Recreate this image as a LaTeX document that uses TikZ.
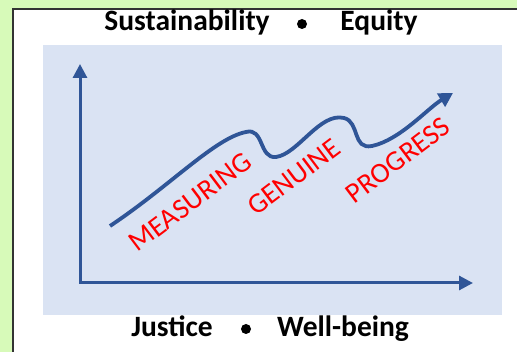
\documentclass[tikz,border=0pt]{standalone}
\usepackage{fontspec}
\setmainfont{Carlito}
\usetikzlibrary{arrows.meta}

\definecolor{leaf}{RGB}{215,250,185}
\definecolor{panel}{RGB}{218,227,243}
\definecolor{ink}{RGB}{47,85,151}

\begin{document}
\begin{tikzpicture}[x=1pt, y=-1pt,
		motto/.style={font=\fontsize{29.5}{31}\selectfont\bfseries, anchor=base, inner sep=0pt},
		word/.style={font=\fontsize{28.5}{30}\selectfont, text=red, rotate=37, inner sep=0pt},
		dot/.style={circle, fill=black, inner sep=0pt, minimum size=10pt},
		axis/.style={ink, line width=3pt, {Triangle[length=14pt,width=14pt]}-{Triangle[length=14pt,width=14pt]}},
		trend/.style={ink, line width=3.8pt, -{Triangle[length=14pt,width=15pt]}}]
			\useasboundingbox (0, 0) rectangle (517, 352);
			
			% frame and panel
			\fill[leaf] (0, 0) rectangle (517, 352);
			\fill[white] (13, 9) rectangle (517, 352);
			\draw[black!80, line width=1.5pt] (13, 352) -- (13, 9) -- (517, 9);
			\fill[panel] (43, 45) rectangle (502, 315);
			
			% axes
			\coordinate (o) at (80, 283);
			\coordinate (ytip) at (80, 64);
			\coordinate (xtip) at (473, 283);
			\draw[axis, line join=miter] (ytip) -- (o) -- (xtip);
			
			% the wavy trend line
			\coordinate (c0) at (110, 226);
			\coordinate (c1) at (246, 132);
			\coordinate (c2) at (276, 157);
			\coordinate (c3) at (344, 118);
			\coordinate (c4) at (372, 146);
			\coordinate (c5) at (453, 93);
			\draw[trend] (c0) .. controls (170, 186) and (215, 138) .. (c1)
				.. controls (264, 127) and (259, 159) .. (c2)
				.. controls (298, 154) and (320, 112) .. (c3)
				.. controls (360, 122) and (352, 150) .. (c4)
				.. controls (400, 140) and (428, 108) .. (c5);
			
			\node[word] (measuring) at (190, 202) {MEASURING};
			\node[word] (genuine) at (294, 177) {GENUINE};
			\node[word] (progress) at (398, 160) {PROGRESS};
			
			% captions above and below
			\node[motto] (sust) at (187, 31) {Sustainability};
			\node[dot] (dottop) at (302, 24) {};
			\node[motto] (equity) at (379, 31) {Equity};
			\node[motto] (justice) at (172, 337) {Justice};
			\node[dot] (dotbot) at (246, 329) {};
			\node[motto] (wellbeing) at (343, 337) {Well-being};
		\end{tikzpicture}
\end{document}
